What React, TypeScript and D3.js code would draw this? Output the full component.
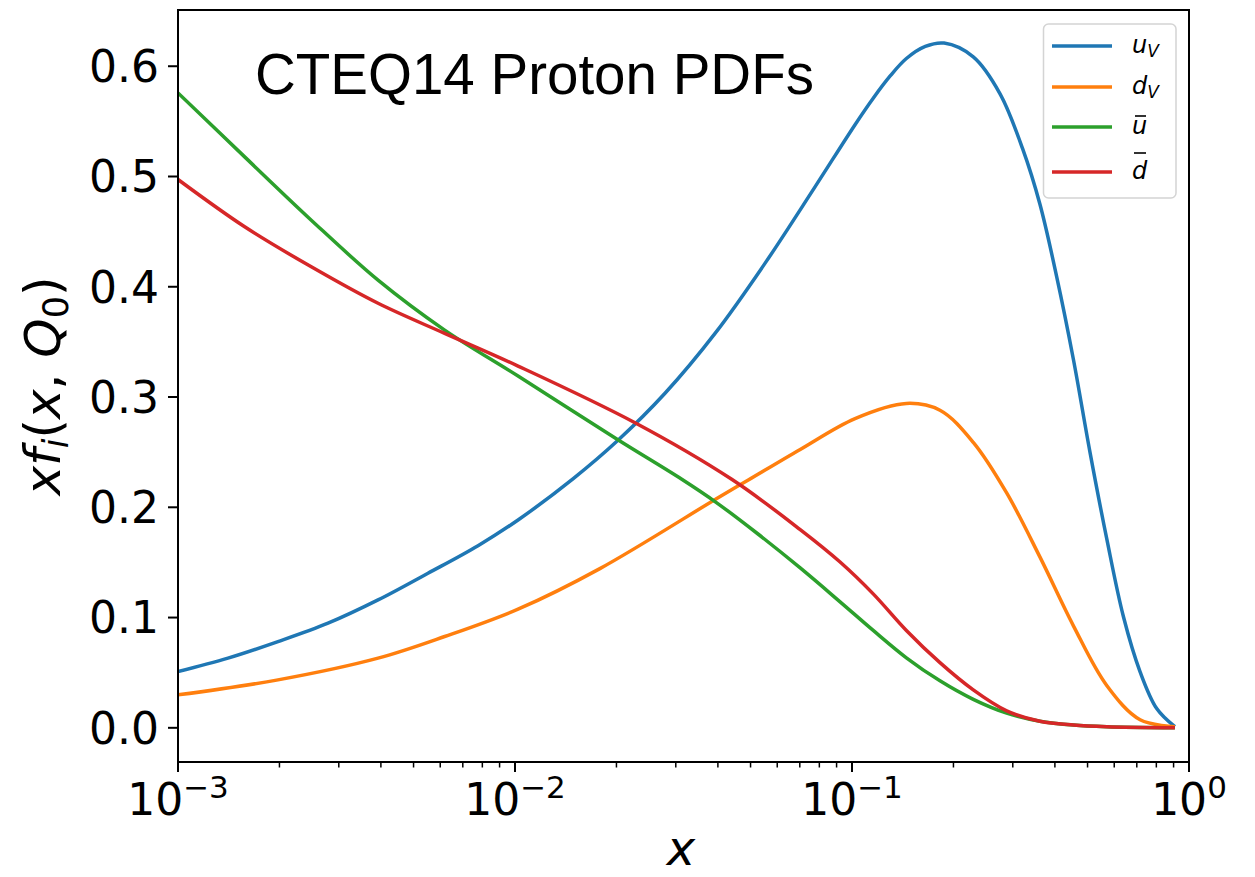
import React from "react";
import * as d3 from "d3";

// Momentum fractions at which the parton distributions are sampled
const xUV = [0.001, 0.001407, 0.00198, 0.002787, 0.003923, 0.005517, 0.007767, 0.01021, 0.01489, 0.02025, 0.02787, 0.03923, 0.05517, 0.07767, 0.1021, 0.1156, 0.13, 0.145, 0.165, 0.1876, 0.229, 0.275, 0.321, 0.361, 0.405, 0.454, 0.508, 0.57, 0.639, 0.716, 0.802, 0.908];
const uV = [0.051, 0.0632, 0.0782, 0.0949, 0.116, 0.1402, 0.1652, 0.1885, 0.226, 0.261, 0.3034, 0.3577, 0.4212, 0.4906, 0.547, 0.571, 0.5914, 0.607, 0.618, 0.621, 0.6085, 0.575, 0.525, 0.475, 0.409, 0.334, 0.2505, 0.1715, 0.1007, 0.0508, 0.0175, 0.001];

const xDV = [0.001, 0.00198, 0.003923, 0.006184, 0.01021, 0.01786, 0.0397, 0.04924, 0.0702, 0.1021, 0.145, 0.1824, 0.229, 0.2877, 0.361, 0.454, 0.57, 0.716, 0.908];
const dV = [0.0299, 0.0435, 0.0632, 0.0828, 0.1076, 0.1444, 0.208, 0.2248, 0.2525, 0.2805, 0.2942, 0.288, 0.2589, 0.213, 0.155, 0.0925, 0.0384, 0.0073, 0.001];

const xUBar = [0.001, 0.001577, 0.002486, 0.003923, 0.006184, 0.01021, 0.02025, 0.03125, 0.0395, 0.0525, 0.0702, 0.092, 0.1156, 0.145, 0.1824, 0.229, 0.2877, 0.361, 0.454, 0.57, 0.908];
const uBar = [0.5758, 0.5178, 0.4604, 0.406, 0.3607, 0.319, 0.261, 0.2254, 0.2045, 0.176, 0.145, 0.1145, 0.0883, 0.0635, 0.0426, 0.0258, 0.0133, 0.006, 0.0025, 0.001, 0.0];

const xDBar = [0.001, 0.001577, 0.002486, 0.003923, 0.006184, 0.01021, 0.0227, 0.04395, 0.0702, 0.092, 0.1156, 0.145, 0.1824, 0.229, 0.2877, 0.361, 0.454, 0.57, 0.908];
const dBar = [0.4973, 0.4544, 0.4181, 0.385, 0.3577, 0.3281, 0.2767, 0.2254, 0.1798, 0.1506, 0.1215, 0.0883, 0.0591, 0.0344, 0.0154, 0.0059, 0.0025, 0.001, 0.0];

const yTicks = [0.0, 0.1, 0.2, 0.3, 0.4, 0.5, 0.6];
const xDecades = [-3, -2, -1, 0];
const titleText = "CTEQ14 Proton PDFs";

const seriesList = [
  { key: "uV", xs: xUV, ys: uV, color: "#1f77b4", base: "u", sub: "V", bar: false },
  { key: "dV", xs: xDV, ys: dV, color: "#ff7f0e", base: "d", sub: "V", bar: false },
  { key: "ubar", xs: xUBar, ys: uBar, color: "#2ca02c", base: "u", sub: "", bar: true },
  { key: "dbar", xs: xDBar, ys: dBar, color: "#d62728", base: "d", sub: "", bar: true },
];

const W = 1255;
const H = 877;
const left = 178;
const right = 1189;
const top = 10;
const bottom = 762;

const MATH = "'DejaVu Sans', sans-serif";

export default function App() {
  const x = d3.scaleLog().domain([1e-3, 1]).range([left, right]);
  const y = d3.scaleLinear().domain([-0.031, 0.651]).range([bottom, top]);

  const line = d3
    .line<[number, number]>()
    .x((d) => x(d[0]))
    .y((d) => y(d[1]))
    .curve(d3.curveCatmullRom.alpha(0.5));

  const minorTicks: number[] = [];
  for (const dec of [-3, -2, -1]) {
    for (let k = 2; k <= 9; k++) minorTicks.push(k * Math.pow(10, dec));
  }

  const legendRows = [46, 87, 127, 172];

  return (
    <svg
      width={W}
      height={H}
      style={{ position: "absolute", left: 0, top: 0, background: "#fff" }}
    >
      <rect x={0} y={0} width={W} height={H} fill="#fff" />
      <defs>
        <clipPath id="plot-area">
          <rect x={left} y={top} width={right - left} height={bottom - top} />
        </clipPath>
      </defs>

      {/* curves */}
      <g clipPath="url(#plot-area)">
        {seriesList.map((s) => (
          <path
            key={s.key}
            d={line(s.xs.map((v, i) => [v, s.ys[i]] as [number, number])) || ""}
            fill="none"
            stroke={s.color}
            strokeWidth={3.5}
            strokeLinejoin="round"
            strokeLinecap="butt"
          />
        ))}
      </g>

      {/* title */}
      <text
        x={255}
        y={94}
        fontFamily="'Liberation Sans', Arial, sans-serif"
        fontSize={56.5}
        fill="#000"
      >
        {titleText}
      </text>

      {/* axes frame */}
      <rect
        x={left}
        y={top}
        width={right - left}
        height={bottom - top}
        fill="none"
        stroke="#000"
        strokeWidth={2}
      />

      {/* y ticks */}
      {yTicks.map((t) => (
        <g key={t}>
          <line x1={left - 10} x2={left} y1={y(t)} y2={y(t)} stroke="#000" strokeWidth={2} />
          <text
            x={left - 19}
            y={y(t)}
            dy="0.36em"
            textAnchor="end"
            fontFamily={MATH}
            fontSize={44}
            fill="#000"
          >
            {t.toFixed(1)}
          </text>
        </g>
      ))}

      {/* x minor ticks */}
      {minorTicks.map((t) => (
        <line key={t} x1={x(t)} x2={x(t)} y1={bottom} y2={bottom + 5.5} stroke="#000" strokeWidth={1.5} />
      ))}

      {/* x major ticks and labels */}
      {xDecades.map((dec) => {
        const px = x(Math.pow(10, dec));
        const label = dec === 0 ? "0" : "\u2212" + Math.abs(dec);
        return (
          <g key={dec}>
            <line x1={px} x2={px} y1={bottom} y2={bottom + 10} stroke="#000" strokeWidth={2} />
            <text
              x={px}
              y={815}
              textAnchor="middle"
              fontFamily={MATH}
              fontSize={44}
              fill="#000"
            >
              <tspan>10</tspan>
              <tspan dy={-17} fontSize={31}>
                {label}
              </tspan>
            </text>
          </g>
        );
      })}

      {/* x axis label */}
      <text
        x={681}
        y={865}
        textAnchor="middle"
        fontFamily={MATH}
        fontStyle="italic"
        fontSize={48}
        fill="#000"
      >
        x
      </text>

      {/* y axis label */}
      <text
        transform="translate(60,386) rotate(-90)"
        textAnchor="middle"
        fontFamily={MATH}
        fontSize={50}
        fill="#000"
      >
        <tspan fontStyle="italic">xf</tspan>
        <tspan fontStyle="italic" fontSize={35} dy={8}>i</tspan>
        <tspan dy={-8}>(</tspan>
        <tspan fontStyle="italic">x</tspan>
        <tspan>, </tspan>
        <tspan fontStyle="italic">Q</tspan>
        <tspan fontSize={35} dy={8}>0</tspan>
        <tspan dy={-8}>)</tspan>
      </text>

      {/* legend */}
      <rect
        x={1043.5}
        y={24}
        width={132.5}
        height={174}
        rx={5}
        fill="#fff"
        fillOpacity={0.8}
        stroke="#d4d4d4"
        strokeWidth={1.5}
      />
      {seriesList.map((s, i) => {
        const ry = legendRows[i];
        return (
          <g key={s.key}>
            <line x1={1052} x2={1112} y1={ry} y2={ry} stroke={s.color} strokeWidth={3.5} />
            <text
              x={1132}
              y={ry + 7}
              fontFamily={MATH}
              fontStyle="italic"
              fontSize={24}
              fill="#000"
            >
              <tspan>{s.base}</tspan>
              {s.sub ? (
                <tspan fontSize={17} dy={4}>
                  {s.sub}
                </tspan>
              ) : null}
            </text>
            {s.bar ? (
              <line
                x1={s.base === "u" ? 1135 : 1134}
                x2={s.base === "u" ? 1146 : 1146}
                y1={s.base === "u" ? ry - 11 : ry - 19}
                y2={s.base === "u" ? ry - 11 : ry - 19}
                stroke="#000"
                strokeWidth={1.6}
              />
            ) : null}
          </g>
        );
      })}
    </svg>
  );
}
